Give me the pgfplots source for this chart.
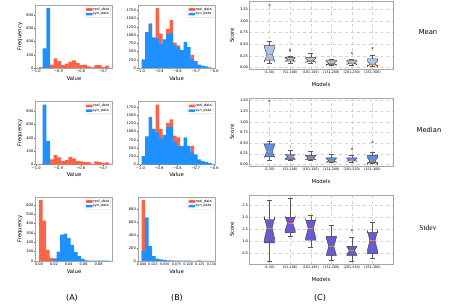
\documentclass[border=0pt]{standalone}
\usepackage{pgfplots}
\pgfplotsset{compat=1.18}
\usepackage{fontspec}
\setmainfont{DejaVu Sans}
\newfontfamily\serifF{Liberation Serif}
\definecolor{realC}{HTML}{FF6347}
\definecolor{synC}{HTML}{1E90FF}
\definecolor{boxA}{HTML}{A7C4E8}
\definecolor{boxB}{HTML}{5E8EEA}
\definecolor{boxC}{HTML}{6A5ACD}
\definecolor{medC}{HTML}{FF7F0E}

% notched box: pos, whislo, q1, notchlo, med, notchhi, q3, whishi, fill
\newcommand{\nbox}[9]{%
  \pgfmathsetmacro\nbL{#1-0.25}\pgfmathsetmacro\nbR{#1+0.25}%
  \pgfmathsetmacro\ncL{#1-0.125}\pgfmathsetmacro\ncR{#1+0.125}%
  \addplot[fill=#9, draw=black!75, line width=0.4bp, mark=none] coordinates {(\nbL,#3) (\nbR,#3) (\nbR,#4) (\ncR,#5) (\nbR,#6) (\nbR,#7) (\nbL,#7) (\nbL,#6) (\ncL,#5) (\nbL,#4) (\nbL,#3)};
  \addplot[whisk] coordinates {(#1,#3) (#1,#2)};
  \addplot[whisk] coordinates {(#1,#7) (#1,#8)};
  \addplot[whisk] coordinates {(\ncL,#2) (\ncR,#2)};
  \addplot[whisk] coordinates {(\ncL,#8) (\ncR,#8)};
  \addplot[medC, line width=0.6bp, mark=none] coordinates {(\ncL,#5) (\ncR,#5)};
}

\pgfplotsset{
  whisk/.style={black!65, line width=0.4bp, mark=none},
  outl/.style={only marks, mark=o, mark size=0.9bp, black!65, mark options={line width=0.35bp}},
  histR/.style={const plot, fill=realC, draw=none, mark=none},
  histB/.style={const plot, fill=synC, draw=none, mark=none},
  common/.style={scale only axis, anchor=north west,
    axis line style={gray!70, line width=0.7bp},
    tick pos=left, tick align=outside, major tick length=1.2bp,
    tick style={black!60, line width=0.3bp},
    scaled ticks=false,
    /pgf/number format/assume math mode=true,
    ticklabel style={font=\fontsize{3.6}{4}\selectfont, inner sep=0.8bp},
    label style={font=\fontsize{5.3}{6}\selectfont},
  },
  hist/.style={common, width=77bp, ymin=0,
    xlabel=Value,
    xlabel style={at={(axis description cs:0.5,-0.16)}, anchor=center},
    ylabel style={at={(axis description cs:-0.2,0.5)}, anchor=center},
    legend cell align=left,
    legend style={at={(0.98,0.98)}, anchor=north east, font=\fontsize{3.5}{3.9}\selectfont,
      draw=gray!35, rounded corners=0.6bp, inner xsep=0.8bp, inner ysep=0.5bp, row sep=-0.7bp,
      nodes={inner sep=0.6bp}},
    legend image code/.code={\fill[##1] (0bp,-1.2bp) rectangle (6.5bp,1.5bp);},
  },
  cbox/.style={common, width=144bp, xmin=0, xmax=7,
    xtick={1,2,3,4,5,6},
    xticklabels={(1-50),(51-100),(101-150),(151-200),(201-250),(251-300)},
    xticklabel style={font=\fontsize{3.3}{4}\selectfont, yshift=-1.5bp},
    major tick length=0bp,
    grid=major, grid style={dashed, gray!35, line width=0.3bp},
    xlabel=Models, ylabel=Score,
    xlabel style={at={(axis description cs:0.5,-0.225)}, anchor=center},
    ylabel style={at={(axis description cs:-0.118,0.5)}, anchor=center},
  },
}

\begin{document}
\begin{tikzpicture}
\path[use as bounding box] (0,0) rectangle (451bp,-306bp);

%%%%%%%%%%%% Row 1: Mean
\begin{axis}[hist, at={(35.5bp,-5bp)}, height=63bp,
  xmin=-1.0038, xmax=-0.6568, ymax=954,
  xtick={-1,-0.9,-0.8,-0.7}, xticklabels={−1.0,−0.9,−0.8,−0.7},
  ytick={0,200,400,600,800}, yticklabels={0,200,400,600,800},
  ylabel=Frequency]
\addplot[histR] coordinates {(-0.988,15) (-0.9714,0) (-0.9548,0) (-0.9382,52) (-0.9216,145) (-0.905,104) (-0.8884,42) (-0.8718,68) (-0.8552,94) (-0.8386,114) (-0.822,78) (-0.8054,42) (-0.7888,52) (-0.7722,26) (-0.7556,10) (-0.739,42) (-0.7224,42) (-0.7058,12) (-0.6892,36) (-0.6726,36)} \closedcycle;
\addlegendentry{real\_data}
\addplot[histB] coordinates {(-0.9714,296) (-0.9548,909) (-0.9382,909)} \closedcycle;
\addlegendentry{syn\_data}
\end{axis}

\begin{axis}[hist, at={(138bp,-5bp)}, height=63bp,
  xmin=-1.014, xmax=-0.596, ymax=1911,
  xtick={-1,-0.9,-0.8,-0.7,-0.6}, xticklabels={−1.0,−0.9,−0.8,−0.7,−0.6},
  ytick={0,250,500,750,1000,1250,1500,1750}, yticklabels={0,250,500,750,1000,1250,1500,1750}]
\addplot[histR] coordinates {(-0.995,0) (-0.976,0) (-0.957,1355) (-0.938,0) (-0.919,1820) (-0.900,1040) (-0.881,0) (-0.862,1185) (-0.843,1460) (-0.824,770) (-0.805,690) (-0.786,0) (-0.767,0) (-0.748,0) (-0.729,400) (-0.710,0) (-0.691,0) (-0.672,0) (-0.653,0) (-0.634,0) (-0.615,0)} \closedcycle;
\addlegendentry{real\_data}
\addplot[histB] coordinates {(-0.995,265) (-0.976,1090) (-0.957,1325) (-0.938,930) (-0.919,900) (-0.900,740) (-0.881,870) (-0.862,1030) (-0.843,1060) (-0.824,690) (-0.805,635) (-0.786,550) (-0.767,795) (-0.748,635) (-0.729,265) (-0.710,210) (-0.691,105) (-0.672,75) (-0.653,50) (-0.634,20) (-0.615,20)} \closedcycle;
\addlegendentry{syn\_data}
\end{axis}

\begin{axis}[cbox, at={(249bp,-1.5bp)}, height=67.5bp,
  ymin=-0.03, ymax=1.416,
  ytick={0,0.25,0.5,0.75,1,1.25}, yticklabels={0.00,0.25,0.50,0.75,1.00,1.25}]
\nbox{1}{0.10}{0.16}{0.134}{0.28}{0.426}{0.47}{0.56}{boxA}
\nbox{2}{0.10}{0.14}{0.132}{0.17}{0.208}{0.22}{0.24}{boxA}
\nbox{3}{0.10}{0.125}{0.105}{0.15}{0.195}{0.22}{0.31}{boxA}
\nbox{4}{0.05}{0.07}{0.048}{0.09}{0.132}{0.16}{0.19}{boxA}
\nbox{5}{0.05}{0.08}{0.062}{0.10}{0.138}{0.16}{0.19}{boxA}
\nbox{6}{0.035}{0.055}{0.017}{0.08}{0.143}{0.19}{0.26}{boxA}
\addplot[outl] coordinates {(1,1.34) (2,0.36) (2,0.38) (5,0.31) (6,0.42)};
\end{axis}

%%%%%%%%%%%% Row 2: Median
\begin{axis}[hist, at={(35.5bp,-101.5bp)}, height=63bp,
  xmin=-1.0038, xmax=-0.6568, ymax=940,
  xtick={-1,-0.9,-0.8,-0.7}, xticklabels={−1.0,−0.9,−0.8,−0.7},
  ytick={0,200,400,600,800}, yticklabels={0,200,400,600,800},
  ylabel=Frequency]
\addplot[histR] coordinates {(-0.988,10) (-0.9714,0) (-0.9548,0) (-0.9382,75) (-0.9216,140) (-0.905,105) (-0.8884,50) (-0.8718,65) (-0.8552,115) (-0.8386,90) (-0.822,50) (-0.8054,45) (-0.7888,35) (-0.7722,35) (-0.7556,10) (-0.739,45) (-0.7224,40) (-0.7058,20) (-0.6892,30) (-0.6726,30)} \closedcycle;
\addlegendentry{real\_data}
\addplot[histB] coordinates {(-0.9714,895) (-0.9548,350) (-0.9382,350)} \closedcycle;
\addlegendentry{syn\_data}
\end{axis}

\begin{axis}[hist, at={(138bp,-101.5bp)}, height=63bp,
  xmin=-1.014, xmax=-0.596, ymax=1911,
  xtick={-1,-0.9,-0.8,-0.7,-0.6}, xticklabels={−1.0,−0.9,−0.8,−0.7,−0.6},
  ytick={0,250,500,750,1000,1250,1500,1750}, yticklabels={0,250,500,750,1000,1250,1500,1750}]
\addplot[histR] coordinates {(-0.995,0) (-0.976,0) (-0.957,0) (-0.938,0) (-0.919,1820) (-0.900,1080) (-0.881,0) (-0.862,1265) (-0.843,1370) (-0.824,875) (-0.805,820) (-0.786,0) (-0.767,0) (-0.748,0) (-0.729,565) (-0.710,0) (-0.691,0) (-0.672,0) (-0.653,0) (-0.634,0) (-0.615,0)} \closedcycle;
\addlegendentry{real\_data}
\addplot[histB] coordinates {(-0.995,257) (-0.976,855) (-0.957,1440) (-0.938,1080) (-0.919,977) (-0.900,790) (-0.881,895) (-0.862,1130) (-0.843,1150) (-0.824,690) (-0.805,565) (-0.786,565) (-0.767,820) (-0.748,565) (-0.729,360) (-0.710,310) (-0.691,155) (-0.672,100) (-0.653,70) (-0.634,50) (-0.615,50)} \closedcycle;
\addlegendentry{syn\_data}
\end{axis}

\begin{axis}[cbox, at={(249bp,-98bp)}, height=68bp,
  ymin=-0.04, ymax=1.56,
  ytick={0,0.25,0.5,0.75,1,1.25,1.5}, yticklabels={0.00,0.25,0.50,0.75,1.00,1.25,1.50}]
\nbox{1}{0.10}{0.18}{0.169}{0.31}{0.451}{0.48}{0.55}{boxB}
\nbox{2}{0.10}{0.115}{0.126}{0.18}{0.234}{0.23}{0.34}{boxB}
\nbox{3}{0.10}{0.115}{0.105}{0.15}{0.195}{0.21}{0.31}{boxB}
\nbox{4}{0.04}{0.055}{0.045}{0.09}{0.135}{0.15}{0.245}{boxB}
\nbox{5}{0.055}{0.077}{0.066}{0.10}{0.134}{0.15}{0.21}{boxB}
\nbox{6}{0.025}{0.04}{-0.003}{0.077}{0.157}{0.21}{0.29}{boxB}
\addplot[outl] coordinates {(1,1.49) (5,0.36) (6,0.52)};
\end{axis}

%%%%%%%%%%%% Row 3: Stdev
\begin{axis}[hist, at={(35.5bp,-197bp)}, height=64bp,
  xmin=-0.0047, xmax=0.0987, ymax=683,
  xtick={0,0.02,0.04,0.06,0.08}, xticklabels={0.00,0.02,0.04,0.06,0.08},
  ytick={0,100,200,300,400,500,600}, yticklabels={0,100,200,300,400,500,600},
  ylabel=Frequency]
\addplot[histR] coordinates {(0,650) (0.0047,430) (0.0094,120) (0.0141,30) (0.0188,30)} \closedcycle;
\addlegendentry{real\_data}
\addplot[histB] coordinates {(0.0188,29) (0.0235,100) (0.0282,281) (0.0329,292) (0.0376,245) (0.0423,173) (0.047,94) (0.0517,54) (0.0564,22) (0.0611,8) (0.0658,5) (0.0705,5) (0.0752,4) (0.0799,3) (0.0846,3) (0.0893,3) (0.094,3)} \closedcycle;
\addlegendentry{syn\_data}
\end{axis}

\begin{axis}[hist, at={(138bp,-197bp)}, height=64bp,
  xmin=-0.0075, xmax=0.1575, ymax=991,
  xtick={0,0.025,0.05,0.075,0.1,0.125,0.15}, xticklabels={0.000,0.025,0.050,0.075,0.100,0.125,0.150},
  xticklabel style={font=\fontsize{3.3}{4}\selectfont},
  ytick={0,200,400,600,800}, yticklabels={0,200,400,600,800}]
\addplot[histR] coordinates {(0,944) (0.0075,944)} \closedcycle;
\addlegendentry{real\_data}
\addplot[histB] coordinates {(0,155) (0.0075,677) (0.015,235) (0.0225,75) (0.03,37) (0.0375,27) (0.045,16) (0.0525,10) (0.06,8) (0.0675,6) (0.075,4) (0.0825,4) (0.09,4) (0.0975,4) (0.105,3) (0.1125,3) (0.12,8) (0.1275,3) (0.135,2) (0.1425,2) (0.15,2)} \closedcycle;
\addlegendentry{syn\_data}
\end{axis}

\begin{axis}[cbox, at={(249bp,-195bp)}, height=69bp,
  ymin=0.04, ymax=2.94,
  ytick={0.5,1,1.5,2,2.5}, yticklabels={0.5,1.0,1.5,2.0,2.5}]
\nbox{1}{0.17}{0.93}{1.094}{1.55}{2.006}{1.90}{2.74}{boxC}
\nbox{2}{1.21}{1.36}{1.45}{1.75}{2.05}{2.00}{2.81}{boxC}
\nbox{3}{0.73}{1.04}{1.135}{1.53}{1.925}{1.88}{2.10}{boxC}
\nbox{4}{0.22}{0.40}{0.404}{0.78}{1.156}{1.20}{1.68}{boxC}
\nbox{5}{0.15}{0.40}{0.42}{0.60}{0.78}{0.78}{1.15}{boxC}
\nbox{6}{0.27}{0.47}{0.60}{1.02}{1.44}{1.36}{1.79}{boxC}
\addplot[outl] coordinates {(5,1.46)};
\end{axis}

%%%%%%%%%%%% annotations
\node[font=\fontsize{6.8}{8}\selectfont] at (428bp,-32bp) {Mean};
\node[font=\fontsize{6.8}{8}\selectfont] at (429bp,-130bp) {Median};
\node[font=\serifF\fontsize{7.5}{8}\selectfont] at (428bp,-228bp) {Stdev};
\node[font=\fontsize{8}{9}\selectfont] at (72bp,-298bp) {(A)};
\node[font=\fontsize{8}{9}\selectfont] at (177bp,-298bp) {(B)};
\node[font=\fontsize{8}{9}\selectfont] at (320bp,-298bp) {(C)};
\end{tikzpicture}
\end{document}
